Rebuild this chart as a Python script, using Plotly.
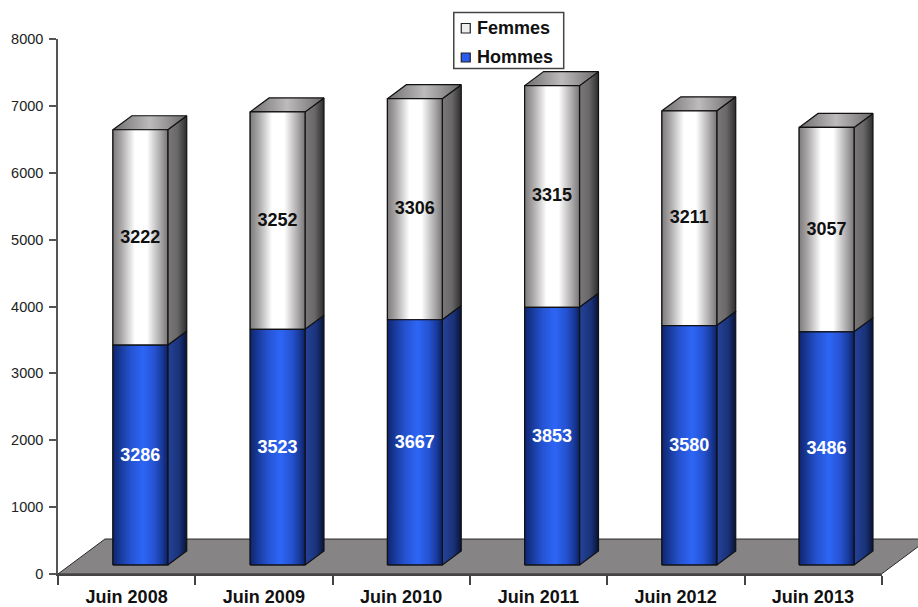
import plotly.graph_objects as go

categories = ["Juin 2008", "Juin 2009", "Juin 2010", "Juin 2011", "Juin 2012", "Juin 2013"]
hommes = [3286, 3523, 3667, 3853, 3580, 3486]
femmes = [3222, 3252, 3306, 3315, 3211, 3057]
y_ticks = [0, 1000, 2000, 3000, 4000, 5000, 6000, 7000, 8000]

# 3-D look: pseudo-depth expressed in axis units
BAR_SHIFT, BAR_W = 0.1, 0.4
BASE = 135
DX, DY = 0.138, 209
FLOOR_DX, FLOOR_DY = 0.342, 523
FONT = "Liberation Sans"
INK = "#1a1a1a"

BLUE_FRONT = [[0, "#0f2470"], [0.14, "#183a9a"], [0.32, "#2552d0"], [0.55, "#2d66f6"], [0.76, "#2552d0"], [0.9, "#183a9a"], [1, "#0d2064"]]
BLUE_SIDE = [[0, "#24439a"], [0.6, "#1a3278"], [1, "#081338"]]
GREY_FRONT = [[0, "#7d7b7c"], [0.15, "#a8a6a7"], [0.4, "#ffffff"], [0.62, "#ffffff"], [0.85, "#b0aeaf"], [1, "#787677"]]
GREY_SIDE = [[0, "#7a7879"], [0.5, "#6a6869"], [1, "#2e2d2d"]]
GREY_TOP = [[0, "#6f6d6e"], [0.5, "#bdbbbc"], [1, "#6a6869"]]

L_MARGIN, W = 57.5, 860.5
T_MARGIN, H = 39, 535.5


def px(x):
    return (x - L_MARGIN) / W


def py(y):
    return (T_MARGIN + H - y) / H


def poly(xs, ys, scale, line="#111111", width=1.2):
    return go.Scatter(
        x=xs, y=ys, mode="lines", fill="toself",
        fillgradient=dict(type="horizontal", colorscale=scale),
        line=dict(color=line, width=width), showlegend=False, hoverinfo="skip",
    )


fig = go.Figure()
centers = [i + BAR_SHIFT for i in range(len(categories))]
bottoms = [BASE] * len(categories)
mids = [BASE + h for h in hommes]
tops = [BASE + h + f for h, f in zip(hommes, femmes)]

fig.add_bar(x=centers, y=hommes, base=bottoms, width=BAR_W, name="Hommes",
            marker=dict(color="#2a5cf0", line=dict(color="#111111", width=1)),
            showlegend=False, hoverinfo="skip")
fig.add_bar(x=centers, y=femmes, base=mids, width=BAR_W, name="Femmes",
            marker=dict(color="#eeeeee", line=dict(color="#111111", width=1)),
            showlegend=False, hoverinfo="skip")

for c, b, m, t in zip(centers, bottoms, mids, tops):
    l, r = c - BAR_W / 2, c + BAR_W / 2
    fig.add_trace(poly([r, r + DX, r + DX, r, r], [m, m + DY, t + DY, t, m], GREY_SIDE))
    fig.add_trace(poly([r, r + DX, r + DX, r, r], [b, b + DY, m + DY, m, b], BLUE_SIDE))
    fig.add_trace(poly([l, r, r + DX, l + DX, l], [t, t, t + DY, t + DY, t], GREY_TOP))
    fig.add_trace(poly([l, r, r, l, l], [m, m, t, t, m], GREY_FRONT))
    fig.add_trace(poly([l, r, r, l, l], [b, b, m, m, b], BLUE_FRONT))

fig.add_trace(go.Scatter(
    x=centers, y=[b + h / 2 - 20 for b, h in zip(bottoms, hommes)], mode="text",
    text=[str(v) for v in hommes], textfont=dict(family=FONT, size=18, color="white", weight="bold"),
    showlegend=False, hoverinfo="skip"))
fig.add_trace(go.Scatter(
    x=centers, y=[m + f / 2 - 8 for m, f in zip(mids, femmes)], mode="text",
    text=[str(v) for v in femmes], textfont=dict(family=FONT, size=18, color="#111111", weight="bold"),
    showlegend=False, hoverinfo="skip"))

# boundary axis carrying the baseline and its ticks
n = len(categories)
fig.add_trace(go.Scatter(x=[-0.5, n - 0.5], y=[0, 0], xaxis="x2", mode="lines",
                         line=dict(color="rgba(0,0,0,0)", width=0),
                         showlegend=False, hoverinfo="skip"))

floor_x = [-0.5, -0.5 + FLOOR_DX, n - 0.5 + FLOOR_DX, n - 0.5]
floor_y = [0, FLOOR_DY, FLOOR_DY, 0]
floor_path = "M " + " L ".join(f"{x},{y}" for x, y in zip(floor_x, floor_y)) + " Z"

legend_shapes = [
    dict(type="rect", xref="paper", yref="paper", layer="above",
         x0=px(453.5), x1=px(563.5), y0=py(68.5), y1=py(12.5),
         fillcolor="white", line=dict(color="#444444", width=1.5)),
    dict(type="rect", xref="paper", yref="paper", layer="above",
         x0=px(461), x1=px(470), y0=py(33), y1=py(23.5),
         fillcolor="#eeeeee", line=dict(color="#222222", width=1.2)),
    dict(type="rect", xref="paper", yref="paper", layer="above",
         x0=px(461), x1=px(470), y0=py(62), y1=py(53),
         fillcolor="#2a5cf0", line=dict(color="#222222", width=1.2)),
]
legend_labels = [
    dict(text="Femmes", xref="paper", yref="paper", x=px(474.5), y=py(27.5), xanchor="left",
         yanchor="middle", showarrow=False,
         font=dict(family=FONT, size=18, color="#111111", weight="bold")),
    dict(text="Hommes", xref="paper", yref="paper", x=px(474.5), y=py(57), xanchor="left",
         yanchor="middle", showarrow=False,
         font=dict(family=FONT, size=18, color="#111111", weight="bold")),
]

fig.update_layout(
    width=918, height=607, autosize=False,
    margin=dict(l=L_MARGIN, r=0, t=T_MARGIN, b=32.5),
    paper_bgcolor="white", plot_bgcolor="rgba(0,0,0,0)",
    barmode="overlay", showlegend=False,
    font=dict(family=FONT, color=INK),
    shapes=[dict(type="path", path=floor_path, xref="x", yref="y", layer="below",
                 fillcolor="#868485", line=dict(color="#2a2a2a", width=1))] + legend_shapes,
    annotations=legend_labels,
    xaxis=dict(range=[-0.5, 5.766], domain=[0, 1], anchor="y", automargin=False,
               tickmode="array", tickvals=list(range(n)), ticktext=categories,
               ticks="outside", ticklen=6, tickcolor="rgba(0,0,0,0)",
               tickfont=dict(family=FONT, size=18, color="#111111", weight="bold"),
               showgrid=False, zeroline=False, showline=False),
    xaxis2=dict(range=[-0.5, n - 0.5], domain=[0, 824.5 / 860.5], anchor="y", automargin=False,
                tickmode="array", tickvals=[i - 0.5 for i in range(n + 1)],
                ticktext=[""] * (n + 1),
                ticks="outside", ticklen=9, tickcolor="#444444", tickwidth=1.5,
                showline=True, linecolor="#444444", linewidth=2,
                showgrid=False, zeroline=False),
    yaxis=dict(range=[0, 8000], tickmode="array", tickvals=y_ticks, automargin=False,
               ticks="outside", ticklen=7, tickcolor="#555555", tickwidth=1.5,
               showline=True, linecolor="#555555", linewidth=1.5, ticklabelstandoff=3,
               tickfont=dict(family=FONT, size=14.5, color="#222222"),
               showgrid=False, zeroline=False),
)

fig.write_html("out.html", config={"displayModeBar": False},
               post_script="document.body.style.margin='0';")
